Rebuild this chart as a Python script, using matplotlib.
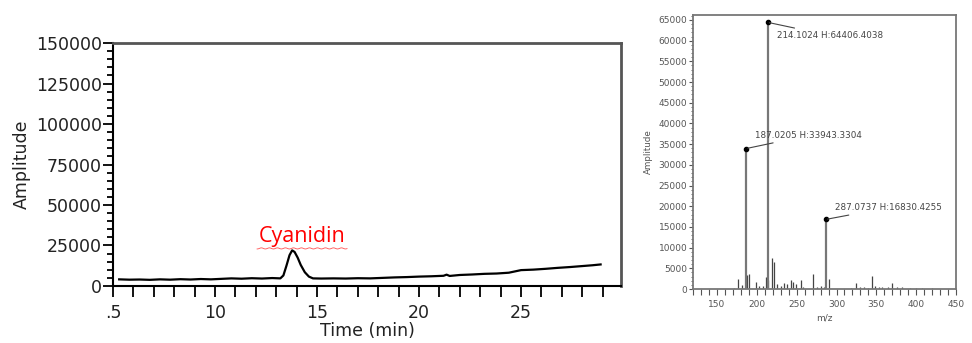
import numpy as np
import matplotlib
matplotlib.use("Agg")
import matplotlib.pyplot as plt
from matplotlib.ticker import MultipleLocator, FixedLocator

# chromatogram (time in min, amplitude)
time_min = [5.3, 5.8, 6.3, 6.8, 7.3, 7.8, 8.3, 8.8, 9.3, 9.8, 10.3, 10.8,
            11.3, 11.8, 12.3, 12.8, 13.2, 13.35, 13.5, 13.65, 13.78, 13.9,
            14.05, 14.2, 14.4, 14.6, 14.8, 15.2, 15.8, 16.4, 17.0, 17.6,
            18.2, 18.8, 19.4, 20.0, 20.6, 21.2, 21.35, 21.5, 22.0, 22.6,
            23.2, 23.8, 24.4, 25.0, 25.6, 26.2, 26.8, 27.4, 28.0, 28.5, 28.9]
amplitude = [4100, 3900, 4000, 3800, 4100, 3900, 4200, 4000, 4300, 4100,
             4400, 4700, 4500, 4800, 4600, 4900, 4700, 6500, 12500, 19000,
             22000, 21000, 17500, 13000, 8500, 5800, 4700, 4600, 4700, 4600,
             4800, 4700, 5000, 5300, 5500, 5800, 6000, 6300, 7000, 6200,
             6800, 7100, 7500, 7700, 8200, 9800, 10100, 10600, 11200, 11700,
             12300, 12800, 13300]
x_ticks = [5, 10, 15, 20, 25]
x_ticklabels = [".5", "10", "15", "20", "25"]
peak_label = "Cyanidin"

# mass spectrum (m/z, amplitude)
mz_minor = [172, 176, 182, 186, 187.5, 190.5, 199, 203, 208, 212, 214.5,
            218.7, 222, 225, 230, 234, 238, 243, 246, 249, 255, 258,
            270.7, 276, 280, 284, 290.5, 318, 324, 329, 334, 339, 344,
            348, 353, 357, 364, 370, 376, 382, 392, 400, 407, 420]
amp_minor = [300, 2500, 950, 600, 3400, 3600, 1800, 700, 800, 2900, 2200,
             7600, 6600, 1300, 700, 1500, 1100, 2100, 1800, 1300, 2100, 500,
             3600, 600, 800, 600, 2500, 300, 1400, 600, 400, 350, 3100,
             700, 500, 600, 500, 1400, 600, 400, 350, 350, 250, 250]
mz_major = [187.0205, 214.1024, 287.0737]
amp_major = [33943.3304, 64406.4038, 16830.4255]
major_labels = ["187.0205 H:33943.3304", "214.1024 H:64406.4038",
                "287.0737 H:16830.4255"]
label_offsets = [(6.5, 9.5), (6.5, -9.5), (6.5, 8.5)]

fig = plt.figure(figsize=(9.72, 3.43), dpi=100)

# ---- left: chromatogram
ax1 = fig.add_axes([0.1163, 0.1662, 0.5226, 0.7084])
ax1.plot(time_min, amplitude, color="black", lw=1.6)
ax1.set_xlim(5, 29.9)
ax1.set_ylim(0, 150000)
ax1.xaxis.set_major_locator(FixedLocator(x_ticks))
ax1.set_xticklabels(x_ticklabels)
ax1.xaxis.set_minor_locator(MultipleLocator(1))
ax1.yaxis.set_major_locator(MultipleLocator(25000))
ax1.yaxis.set_minor_locator(MultipleLocator(5000))
ax1.tick_params(axis="x", which="both", length=8, width=1.3, pad=5,
                labelsize=12.5, labelcolor="#222222")
ax1.tick_params(axis="y", which="major", length=7, width=1.3, pad=1,
                labelsize=12.5, labelcolor="#222222")
ax1.tick_params(axis="y", which="minor", length=4.5, width=1.3)
for side in ["top", "right"]:
    ax1.spines[side].set_color("#555555")
    ax1.spines[side].set_linewidth(2)
for side in ["left", "bottom"]:
    ax1.spines[side].set_linewidth(1.5)
ax1.set_ylabel("Amplitude", fontsize=12.5, color="#222222", labelpad=4)
ax1.set_xlabel("Time (min)", fontsize=12.5, color="#222222", labelpad=0)

ax1.text(14.26, 27150, peak_label, color="#ff0000", fontsize=15.5,
         family="Open Sans", ha="center", va="baseline")
# spell-check squiggle under the label
sq_x = np.linspace(12.06, 16.47, 90)
sq_y = 23200 + 350 * np.sin(sq_x * 16)
ax1.plot(sq_x, sq_y, color="#ff5050", lw=0.6)

# ---- right: mass spectrum
ax2 = fig.add_axes([0.713, 0.1574, 0.2706, 0.7989])
ax2.vlines(mz_minor, 0, amp_minor, color="#444444", lw=0.9)
ax2.vlines(mz_major, 0, amp_major, color="#777777", lw=1.6)
ax2.plot(mz_major, amp_major, "o", color="black", ms=3)
for mz, amp, lab, off in zip(mz_major, amp_major, major_labels, label_offsets):
    ax2.annotate(lab, (mz, amp), xytext=off, textcoords="offset points",
                 fontsize=6.3, color="#444444", ha="left", va="center",
                 arrowprops={"arrowstyle": "-", "color": "#444444",
                             "lw": 0.8, "shrinkA": 1, "shrinkB": 1})
ax2.set_xlim(120, 441)
ax2.set_ylim(0, 66200)
ax2.set_xticks([150, 200, 250, 300, 350, 400, 450])
ax2.xaxis.set_minor_locator(MultipleLocator(10))
ax2.yaxis.set_major_locator(MultipleLocator(5000))
ax2.yaxis.set_minor_locator(MultipleLocator(1000))
ax2.tick_params(axis="x", which="both", length=4, width=0.8, pad=4,
                labelsize=6.5, labelcolor="#555555", color="#555555")
ax2.tick_params(axis="y", which="major", length=3, width=0.8, pad=1,
                labelsize=6.5, labelcolor="#555555", color="#555555")
ax2.tick_params(axis="y", which="minor", length=1.8, width=0.6,
                color="#555555")
for side in ax2.spines:
    ax2.spines[side].set_color("#777777")
    ax2.spines[side].set_linewidth(1.3)
ax2.set_ylabel("Amplitude", fontsize=6.3, color="#555555", labelpad=4)
ax2.set_xlabel("m/z", fontsize=6.5, color="#555555", labelpad=3)

fig.savefig("out.png", dpi=100)
